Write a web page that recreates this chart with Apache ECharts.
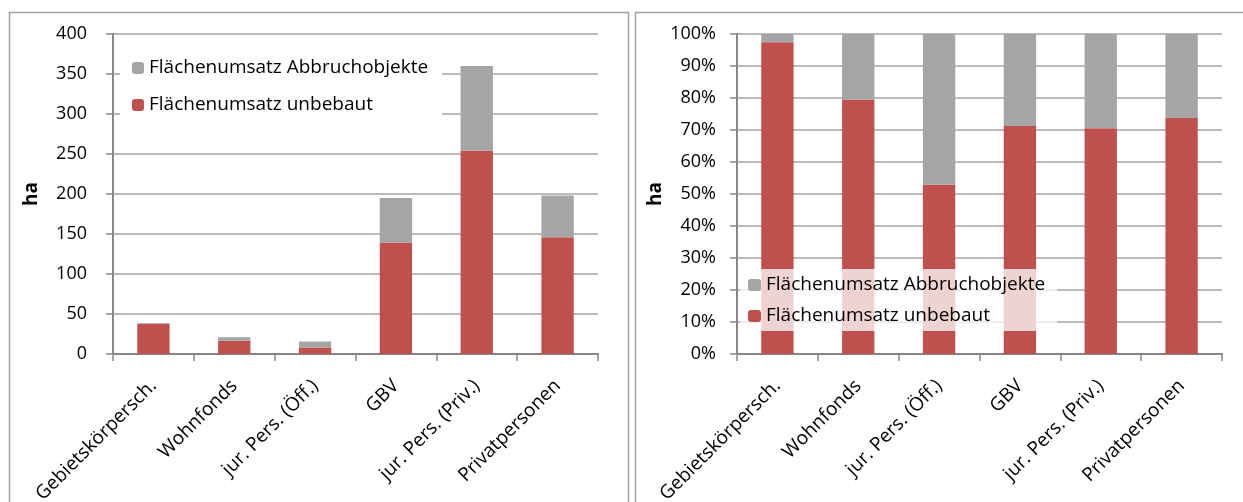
<!DOCTYPE html>
<html>
<head>
<meta charset="utf-8">
<script src="https://cdn.jsdelivr.net/npm/echarts@6/dist/echarts.min.js"></script>
<style>
  html, body { margin: 0; padding: 0; background: #ffffff; }
  #chart { width: 1243px; height: 502px; }
</style>
</head>
<body>
<div id="chart"></div>
<script>
// Land turnover (ha) by buyer group
const categories = ['Gebietskörpersch.', 'Wohnfonds', 'jur. Pers. (Öff.)', 'GBV', 'jur. Pers. (Priv.)', 'Privatpersonen'];
const unbebaut = [37.5, 16.7, 8.2, 139, 254, 146];
const abbruch = [1, 4.3, 7.3, 56, 106, 52];
const nameAbbruch = 'Flächenumsatz Abbruchobjekte';
const nameUnbebaut = 'Flächenumsatz unbebaut';
const absTicks = { min: 0, max: 400, interval: 50 };
const pctTicks = { min: 0, max: 100, interval: 10 };

// shares of each group's total, for the 100 % stacked panel
const totals = unbebaut.map((v, i) => v + abbruch[i]);
const unbebautPct = unbebaut.map((v, i) => v / totals[i] * 100);
const abbruchPct = abbruch.map((v, i) => v / totals[i] * 100);

const FONT = 'Open Sans';
const RED = '#C0504D';
const GREY = '#A5A5A5';
const AXIS = '#868686';
const GRID = '#A6A6A6';

const chart = echarts.init(document.getElementById('chart'), null, { renderer: 'canvas' });

function xAxisFor(gridIndex) {
  return {
    type: 'category', gridIndex, data: categories,
    axisLine: { lineStyle: { color: AXIS, width: 2 } },
    axisTick: { show: true, length: 7, lineStyle: { color: AXIS, width: 1.5 } },
    axisLabel: { rotate: 45, margin: 29, color: '#000', fontFamily: FONT, fontSize: 19, interval: 0 }
  };
}
function yAxisFor(gridIndex, ticks, fmt, margin) {
  return {
    type: 'value', gridIndex, min: ticks.min, max: ticks.max, interval: ticks.interval,
    name: 'ha', nameLocation: 'middle', nameGap: 72, nameRotate: 90,
    nameTextStyle: { fontFamily: FONT, fontSize: 19, fontWeight: 'bold', color: '#000' },
    axisLine: { show: true, lineStyle: { color: AXIS, width: 2 } },
    axisTick: { show: true, length: 7, lineStyle: { color: AXIS, width: 1.5 } },
    splitLine: { lineStyle: { color: GRID, width: 1.5 } },
    axisLabel: { margin, color: '#000', fontFamily: FONT, fontSize: 18, formatter: fmt }
  };
}
function barSeries(name, data, idx, color) {
  return {
    name, type: 'bar', stack: 'total' + idx, xAxisIndex: idx, yAxisIndex: idx,
    data, barWidth: '40%', itemStyle: { color }, emphasis: { disabled: true }
  };
}

chart.setOption({
  animation: false,
  textStyle: { fontFamily: FONT },
  grid: [
    { left: 113, right: 645, top: 34, bottom: 148, outerBoundsMode: 'none', containLabel: false },
    { left: 737, right: 21, top: 34, bottom: 148, outerBoundsMode: 'none', containLabel: false }
  ],
  xAxis: [xAxisFor(0), xAxisFor(1)],
  yAxis: [
    yAxisFor(0, absTicks, '{value}', 26),
    yAxisFor(1, pctTicks, '{value}%', 21)
  ],
  legend: [
    {
      data: [nameAbbruch, nameUnbebaut], orient: 'vertical',
      left: 120, top: 45, padding: [13, 14, 10, 12],
      itemWidth: 12, itemHeight: 12, itemGap: 17,
      backgroundColor: '#ffffff', selectedMode: false,
      textStyle: { fontFamily: FONT, fontSize: 19, color: '#000', lineHeight: 20 }
    },
    {
      data: [nameAbbruch, nameUnbebaut], orient: 'vertical',
      left: 740, top: 269, padding: [6, 12, 5, 8],
      itemWidth: 13, itemHeight: 12, itemGap: 11,
      backgroundColor: 'rgba(255,255,255,0.75)', selectedMode: false,
      textStyle: { fontFamily: FONT, fontSize: 19, color: '#000', lineHeight: 20 }
    }
  ],
  graphic: [
    { type: 'rect', z: -1, shape: { x: 9.5, y: 12.5, width: 619, height: 500 },
      style: { fill: 'none', stroke: '#A0A0A0', lineWidth: 1.5 } },
    { type: 'rect', z: -1, shape: { x: 635.5, y: 12.5, width: 620, height: 500 },
      style: { fill: 'none', stroke: '#A0A0A0', lineWidth: 1.5 } }
  ],
  series: [
    barSeries(nameUnbebaut, unbebaut, 0, RED),
    barSeries(nameAbbruch, abbruch, 0, GREY),
    barSeries(nameUnbebaut, unbebautPct, 1, RED),
    barSeries(nameAbbruch, abbruchPct, 1, GREY)
  ]
});
</script>
</body>
</html>
